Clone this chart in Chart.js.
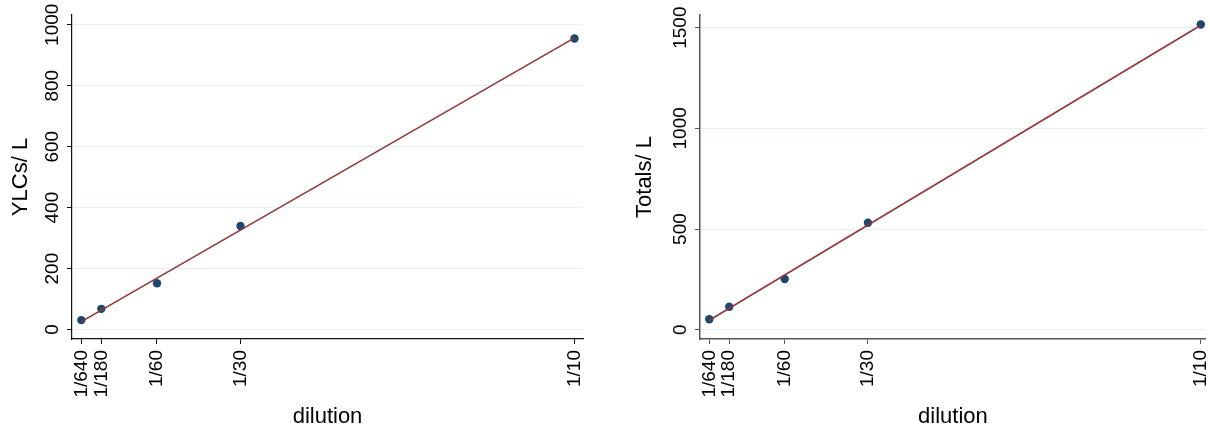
<!DOCTYPE html>
<html>
<head>
<meta charset="utf-8">
<script src="https://cdn.jsdelivr.net/npm/chart.js@4"></script>
<style>
  html, body { margin: 0; padding: 0; background: #fff; }
  #wrap { position: relative; width: 1210px; height: 431px; }
  canvas { position: absolute; top: 0; }
  #left { left: 0; }
  #right { left: 605px; }
</style>
</head>
<body>
<div id="wrap">
  <canvas id="left" width="605" height="431"></canvas>
  <canvas id="right" width="605" height="431"></canvas>
</div>
<script>
const dilutionLabels = ['1/640', '1/180', '1/60', '1/30', '1/10'];
const dilutionValues = [1 / 640, 1 / 180, 1 / 60, 1 / 30, 1 / 10];

const ylcCounts = [31, 68, 152, 340, 955];
const totalCounts = [52, 114, 252, 531, 1516];

// fitted line, value at first and last dilution
const ylcFit = [26, 957];
const totalFit = [47, 1512];

const ylcTicks = [0, 200, 400, 600, 800, 1000];
const totalTicks = [0, 500, 1000, 1500];

const FONT = '"Liberation Sans", Arial, sans-serif';
const GRID = '#e8f0f1';

function toPoints(xs, ys) {
    return ys.map((y, i) => ({ x: xs[i], y: y }));
}

function makePanel(id, cfg) {
    const fitX = [dilutionValues[0], dilutionValues[dilutionValues.length - 1]];
    new Chart(document.getElementById(id), {
        type: 'scatter',
        data: {
            datasets: [
                {
                    data: toPoints(fitX, cfg.fit),
                    showLine: true,
                    borderColor: '#90353b',
                    borderWidth: 1.6,
                    pointRadius: 0
                },
                {
                    data: toPoints(dilutionValues, cfg.counts),
                    backgroundColor: '#1a476f',
                    borderColor: '#1a476f',
                    pointRadius: 4.2,
                    borderWidth: 0
                }
            ]
        },
        options: {
            responsive: false,
            animation: false,
            layout: { padding: { top: 15, right: cfg.padRight, left: 0, bottom: 0 } },
            plugins: { legend: { display: false }, tooltip: { enabled: false } },
            scales: {
                x: {
                    type: 'linear',
                    min: -0.0003,
                    max: cfg.xMax,
                    afterBuildTicks: (scale) => {
                        scale.ticks = dilutionValues.map(v => ({ value: v }));
                    },
                    afterFit: (scale) => {
                        scale.height = 92;
                        // rotated labels are thin, no need to pad the plot sideways
                        scale.paddingLeft = 0;
                        scale.paddingRight = 0;
                    },
                    ticks: {
                        autoSkip: false,
                        minRotation: 90,
                        maxRotation: 90,
                        padding: 6,
                        color: '#000',
                        font: { family: FONT, size: 19 },
                        callback: (v, i) => dilutionLabels[i]
                    },
                    grid: { drawOnChartArea: false, tickLength: 5, tickColor: cfg.axis },
                    border: { color: cfg.axis, width: cfg.axisWidth },
                    title: {
                        display: true,
                        text: 'dilution',
                        color: '#000',
                        font: { family: FONT, size: 22 },
                        padding: { top: 0, bottom: 1 }
                    }
                },
                y: {
                    min: cfg.yMin,
                    max: cfg.yMax,
                    afterBuildTicks: (scale) => {
                        scale.ticks = cfg.ticks.map(v => ({ value: v }));
                    },
                    afterFit: (scale) => { scale.width = cfg.yWidth; },
                    ticks: {
                        minRotation: 90,
                        maxRotation: 90,
                        crossAlign: 'center',
                        padding: -7,
                        color: '#000',
                        font: { family: FONT, size: 19 },
                        callback: (v) => String(v)
                    },
                    grid: { color: GRID, lineWidth: 1, tickLength: 5, tickColor: cfg.axis },
                    border: { color: cfg.axis, width: cfg.axisWidth },
                    title: {
                        display: true,
                        text: cfg.title,
                        color: '#000',
                        font: { family: FONT, size: 22 },
                        padding: { top: cfg.titlePad, bottom: 0 }
                    }
                }
            }
        }
    });
}

makePanel('left', {
    counts: ylcCounts, fit: ylcFit, ticks: ylcTicks,
    title: 'YLCs/ L', yMin: -31, yMax: 1032, xMax: 0.1017,
    yWidth: 72, padRight: 22, titlePad: 8, axis: '#111', axisWidth: 1.2
});

makePanel('right', {
    counts: totalCounts, fit: totalFit, ticks: totalTicks,
    title: 'Totals/ L', yMin: -46, yMax: 1563, xMax: 0.1010,
    yWidth: 95, padRight: 1, titlePad: 27, axis: '#555', axisWidth: 1.5
});
</script>
</body>
</html>
